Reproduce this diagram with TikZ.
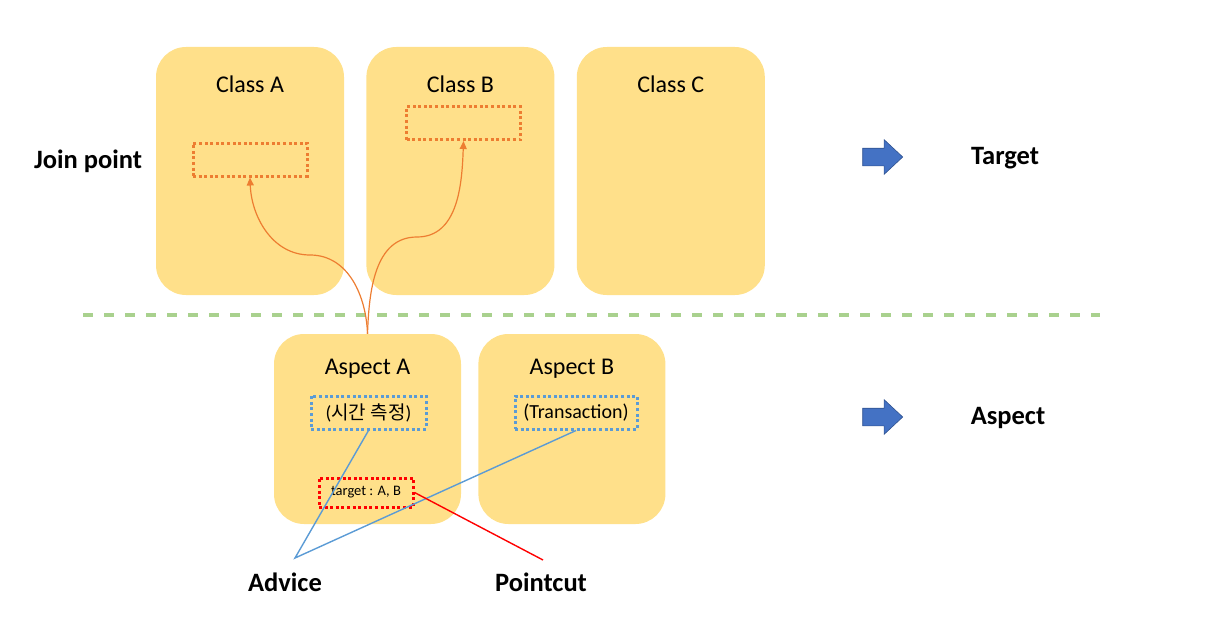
\documentclass[tikz,border=0pt]{standalone}
\usepackage{fontspec}
\setmainfont{Carlito}
\newfontfamily\krfont{Noto Sans CJK KR}
\usetikzlibrary{positioning,shapes.arrows,arrows.meta}
\definecolor{cardyellow}{HTML}{FFE08A}
\definecolor{jporange}{HTML}{ED7D31}
\definecolor{advblue}{HTML}{5B9BD5}
\definecolor{sepgreen}{HTML}{A9D18E}
\definecolor{arrblue}{HTML}{4472C4}
\definecolor{arrline}{HTML}{2F528F}
\begin{document}
\begin{tikzpicture}[x=1pt,y=-1pt,
    card/.style={fill=cardyellow, rounded corners=30pt, inner sep=0pt},
    heading/.style={font=\fontsize{24}{28}\selectfont},
    sidetext/.style={font=\fontsize{26.5}{30}\selectfont\bfseries},
    dots/.style={line width=3pt, dash pattern=on 3pt off 2.6pt, inner sep=0pt},
    jp/.style={dots, draw=jporange, minimum width=114pt, minimum height=33pt},
    adv/.style={dots, draw=advblue, minimum height=33pt, font=\fontsize{20}{24}\selectfont},
    pc/.style={dots, draw=red, minimum width=94pt, minimum height=29pt, font=\fontsize{14.5}{17}\selectfont},
    bigarrow/.style={single arrow, fill=arrblue, draw=arrline, line width=0.6pt, inner xsep=0pt, inner ysep=8.5pt,
        minimum height=40pt, single arrow head extend=8.5pt, single arrow tip angle=86}]
    \useasboundingbox (0,0) rectangle (1215,618);
    % target side
    \node (clsA) [card, minimum width=188pt, minimum height=248pt] at (250,171) {};
    \node (clsB) [card, minimum width=188pt, minimum height=248pt, right=22pt of clsA] {};
    \node (clsC) [card, minimum width=188pt, minimum height=248pt, right=22pt of clsB] {};
    \node [heading] at ([yshift=-37pt]clsA.north) {Class A};
    \node [heading] at ([yshift=-37pt]clsB.north) {Class B};
    \node [heading] at ([yshift=-37pt]clsC.north) {Class C};
    \node (jpA) [jp] at (250,159.5) {};
    \node (jpB) [jp] at (463.5,123) {};
    % separator
    \coordinate (sepL) at (83,315);
    \coordinate (sepR) at (1100,315);
    \draw [sepgreen, line width=3.2pt, dash pattern=on 10pt off 11pt] (sepL) -- (sepR);
    % aspect side
    \node (aspA) [card, minimum width=187pt, minimum height=190pt] at (367.5,429) {};
    \node (aspB) [card, minimum width=187pt, minimum height=190pt, right=17pt of aspA] {};
    \node [heading] at ([yshift=-35pt]aspA.north) {Aspect A};
    \node [heading] at ([yshift=-35pt]aspB.north) {Aspect B};
    \node (advA) [adv, minimum width=115pt] at (368.5,412.5) {{\fontsize{19}{23}\selectfont(\krfont 시간 측정\normalfont)}};
    \node (advB) [adv, minimum width=122pt] at (576,412.5) {(Transaction)};
    \node (pcA) [pc] at (366,492.5) {target : A, B};
    % side labels
    \node (jpLbl) [sidetext] at (88,161) {Join point};
    \node (tgtArr) [bigarrow] at (878,157) {};
    \node (tgtLbl) [sidetext] at (1005,158) {Target};
    \node (aspArr) [bigarrow] at (878,417) {};
    \node (aspLbl) [sidetext] at (1008,418) {Aspect};
    \node (advLbl) [sidetext] at (285,582) {Advice};
    \node (pcLbl) [sidetext] at (541,582) {Pointcut};
    \coordinate (advPt) at (295,558);
    \coordinate (pcPt) at (543,560);
    % weaving curves
    \coordinate (bendA) at (310,255);
    \coordinate (bendB) at (417,237);
    \draw [jporange, line width=1.2pt, -{Triangle[width=7pt,length=8pt]}]
        (aspA.north) to[out=92,in=0] (bendA) to[out=180,in=-88] (jpA.south);
    \draw [jporange, line width=1.2pt, -{Triangle[width=7pt,length=8pt]}]
        (aspA.north) to[out=88,in=180] (bendB) to[out=0,in=-92] (jpB.south);
    % advice and pointcut lines
    \draw [advblue, line width=1.4pt] (advA.south) -- (advPt) -- (advB.south);
    \draw [red, line width=1.4pt] (pcA.east) -- (pcPt);
\end{tikzpicture}
\end{document}
